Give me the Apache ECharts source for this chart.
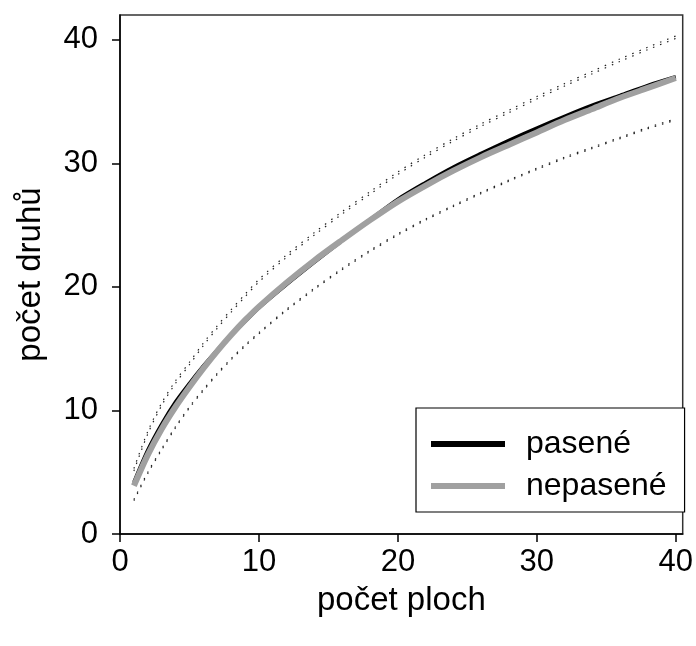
<!DOCTYPE html>
<html>
<head>
<meta charset="utf-8">
<script src="https://cdn.jsdelivr.net/npm/echarts@6/dist/echarts.min.js"></script>
<style>html,body{margin:0;padding:0;background:#fff}#c{width:696px;height:646px}</style>
</head>
<body>
<div id="c"></div>
<script>
// počet ploch (x values)
var plots = [1,2,3,4,5,6,7,8,9,10,12,14,16,18,20,22,24,26,28,30,32,34,36,38,40];
// pasené (grazed) mean curve
var pasene = [4.2,6.8,8.9,10.7,12.2,13.6,14.9,16.1,17.2,18.3,20.2,22.0,23.75,25.45,27.1,28.45,29.7,30.8,31.85,32.85,33.8,34.7,35.5,36.3,37.0];
// nepasené (ungrazed) mean curve
var nepasene = [3.9,6.4,8.5,10.3,11.9,13.4,14.8,16.1,17.3,18.4,20.35,22.15,23.8,25.4,26.9,28.2,29.4,30.5,31.5,32.5,33.5,34.4,35.3,36.1,36.9];
// confidence bounds (dotted)
var paseneUpper = [5.3,8.3,10.6,12.4,13.9,15.45,16.85,18.15,19.4,20.6,22.6,24.4,26.1,27.7,29.3,30.7,32.0,33.2,34.3,35.4,36.45,37.45,38.45,39.4,40.3];
var paseneLower = [2.8,5.0,6.9,8.7,10.3,11.7,13.0,14.2,15.3,16.3,18.2,19.9,21.5,22.95,24.3,25.5,26.6,27.65,28.65,29.6,30.5,31.3,32.1,32.9,33.6];
var nepaseneUpper = [5.1,8.1,10.4,12.2,13.7,15.25,16.65,17.95,19.2,20.4,22.4,24.2,25.9,27.5,29.1,30.5,31.8,33.0,34.1,35.2,36.25,37.25,38.25,39.2,40.1];
var nepaseneLower = [2.7,4.9,6.8,8.6,10.2,11.6,12.9,14.1,15.2,16.2,18.1,19.8,21.4,22.85,24.2,25.4,26.5,27.55,28.55,29.5,30.4,31.2,32.0,32.8,33.5];
var xTicks = [0,10,20,30,40];
var yTicks = [0,10,20,30,40];

function pairs(ys){ return plots.map(function(x,i){ return [x, ys[i]]; }); }

var font = '"Liberation Sans", Arial, sans-serif';
var chart = echarts.init(document.getElementById('c'), null, {renderer:'canvas'});

function dotted(name, ys){
  return {name:name, type:'line', data:pairs(ys), symbol:'none', smooth:0.3, silent:true,
    lineStyle:{color:'#222', width:1.2, type:[1.5,6]}, z:1};
}

chart.setOption({
  animation:false,
  grid:{left:120, top:15, right:10, bottom:112, show:true, borderColor:'#333', borderWidth:1.5, containLabel:false},
  xAxis:{type:'value', min:0, max:40.5, name:'počet ploch', nameLocation:'middle', nameGap:50,
    nameTextStyle:{fontFamily:font, fontSize:33, color:'#000'},
    axisLine:{show:true, lineStyle:{color:'#000', width:1.5}},
    axisTick:{show:true, length:8, inside:false, customValues:xTicks, lineStyle:{color:'#000', width:1.5}},
    axisLabel:{customValues:xTicks, margin:13, fontFamily:font, fontSize:31, color:'#000'},
    splitLine:{show:false}},
  yAxis:{type:'value', min:0, max:42, name:'počet druhů', nameLocation:'middle', nameGap:73,
    nameTextStyle:{fontFamily:font, fontSize:33, color:'#000'},
    axisLine:{show:true, lineStyle:{color:'#000', width:1.5}},
    axisTick:{show:true, length:8, inside:false, customValues:yTicks, lineStyle:{color:'#000', width:1.5}},
    axisLabel:{customValues:yTicks, margin:22, fontFamily:font, fontSize:31, color:'#000'},
    splitLine:{show:false}},
  legend:{orient:'vertical', left:416, top:408, data:[
      {name:'pasené', itemStyle:{color:'#000'}},
      {name:'nepasené', itemStyle:{color:'#a0a0a0'}}],
    icon:'rect', itemWidth:74, itemHeight:6, itemGap:10,
    padding:[20,18,10,15], borderColor:'#000', borderWidth:1.2, backgroundColor:'#fff',
    textStyle:{fontFamily:font, fontSize:32, color:'#000', lineHeight:30, padding:[0,0,0,16]}},
  series:[
    dotted('pU', paseneUpper), dotted('pL', paseneLower),
    dotted('nU', nepaseneUpper), dotted('nL', nepaseneLower),
    {name:'pasené', type:'line', data:pairs(pasene), symbol:'none', smooth:0.3,
      lineStyle:{color:'#000', width:3.5}, itemStyle:{color:'#000'}, z:2},
    {name:'nepasené', type:'line', data:pairs(nepasene), symbol:'none', smooth:0.3,
      lineStyle:{color:'#a0a0a0', width:6}, itemStyle:{color:'#a0a0a0'}, z:3}
  ]
});
</script>
</body>
</html>
